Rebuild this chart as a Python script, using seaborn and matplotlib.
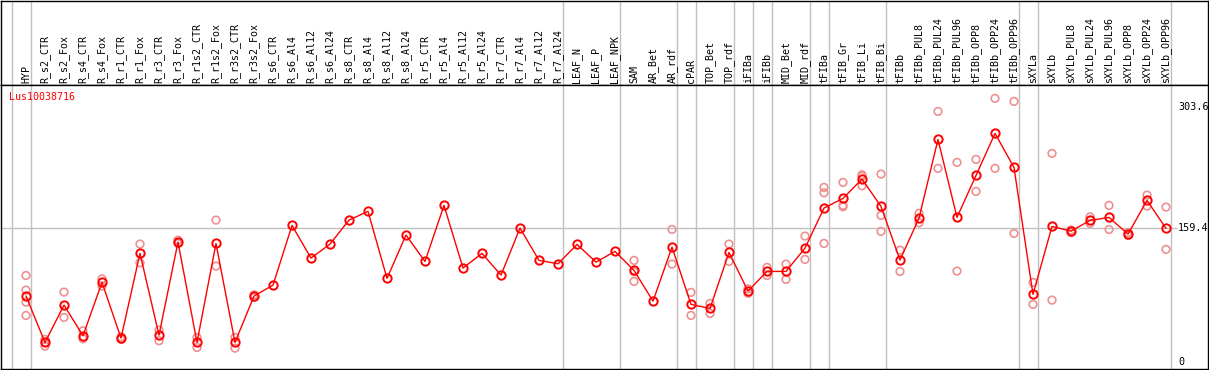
import matplotlib
matplotlib.use("Agg")

import matplotlib.pyplot as plt
import numpy as np
import pandas as pd
import seaborn as sns

gene = "Lus10038716"

samples = [
    "HYP", "R_s2_CTR", "R_s2_Fox", "R_s4_CTR", "R_s4_Fox", "R_r1_CTR", "R_r1_Fox",
    "R_r3_CTR", "R_r3_Fox", "R_r1s2_CTR", "R_r1s2_Fox", "R_r3s2_CTR", "R_r3s2_Fox",
    "R_s6_CTR", "R_s6_Al4", "R_s6_Al12", "R_s6_Al24", "R_s8_CTR", "R_s8_Al4",
    "R_s8_Al12", "R_s8_Al24", "R_r5_CTR", "R_r5_Al4", "R_r5_Al12", "R_r5_Al24",
    "R_r7_CTR", "R_r7_Al4", "R_r7_Al12", "R_r7_Al24", "LEAF_N", "LEAF_P", "LEAF_NPK",
    "SAM", "AR_Bet", "AR_rdf", "cPAR", "TOP_Bet", "TOP_rdf", "iFIBa", "iFIBb",
    "MID_Bet", "MID_rdf", "tFIBa", "tFIB_Gr", "tFIB_Li", "tFIB_Bi", "tFIBb",
    "tFIBb_PUL8", "tFIBb_PUL24", "tFIBb_PUL96", "tFIBb_OPP8", "tFIBb_OPP24",
    "tFIBb_OPP96", "sXYLa", "sXYLb", "sXYLb_PUL8", "sXYLb_PUL24", "sXYLb_PUL96",
    "sXYLb_OPP8", "sXYLb_OPP24", "sXYLb_OPP96",
]

means = [
    78.5, 23.4, 67.8, 31.3, 94.8, 28.5, 129.2, 32.1, 142.7, 23.4, 141.0, 23.4, 78.5,
    91.5, 162.5, 123.6, 140.3, 168.8, 179.2, 99.5, 151.0, 119.7, 186.3, 111.8, 129.2,
    103.4, 159.3, 120.9, 116.9, 139.9, 118.9, 131.6,
    109.0, 72.5, 136.7, 68.6, 63.8, 130.4, 84.4, 107.8, 107.8, 135.5, 183.1, 194.6,
    217.6, 185.1, 121.3, 171.2, 264.7, 172.0, 221.9, 271.9, 231.4, 80.5, 161.3,
    155.7, 168.4, 172.0, 152.2, 192.2, 159.0,
]

replicates = [
    [103, 85.6, 71.3, 55.5], [27, 23.4, 19], [83.2, 53.1], [37.2, 27.7], [99, 90.4],
    [30, 27], [140.3, 118], [38, 25.4], [145, 141], [29.3, 17.4], [168.8, 114.1],
    [29.3, 16.6], [80, 77],
    [], [], [], [], [], [], [], [], [], [], [], [], [], [], [], [], [], [], [],
    [120.9, 107.4, 95.9], [], [157.7, 116.5], [82.9, 55.5], [69.8, 57.9],
    [140.3, 119.7], [87, 81.8], [112.6, 103], [116.5, 98.3], [149.8, 122.1],
    [207.7, 201.3, 141.1], [213.6, 186.3, 184.7], [222.7, 221, 209.6],
    [223.5, 174.4, 155.4], [133.1, 107.8], [176.8, 165.6], [298, 230.3],
    [237.4, 108.2], [241, 202.9], [313.5, 230.3], [309.9, 153], [94.7, 68.6],
    [248.1, 73.7], [157, 154], [172.7, 164.9], [186.3, 157.7], [154, 150.5],
    [198.5, 185.5], [184.3, 134],
]

# sample index after which a group separator is drawn (-1 = before first)
group_breaks = [-1, 0, 28, 31, 34, 35, 37, 38, 39, 41, 42, 45, 52, 53, 60]
y_ticks = [0, 159.4, 303.6]

W, H = 1209, 370
X0, DX = 26.0, 19.0          # pixel of first column, column spacing
Y0, KY = 362.1, 0.8412       # pixel of value 0, pixels per unit


def px_rect(x1, y1, x2, y2):
    return [x1 / W, 1 - y2 / H, (x2 - x1) / W, (y2 - y1) / H]


def px_to_col(x):
    return (x - X0) / DX


def px_to_val(y):
    return (Y0 - y) / KY


mean_df = pd.DataFrame({"pos": np.arange(len(samples)), "value": means})
rep_df = pd.DataFrame(
    [(i, v) for i, reps in enumerate(replicates) for v in reps],
    columns=["pos", "value"],
)

sns.set_style("white")
plt.rcParams["font.family"] = ["DejaVu Sans Mono", "DejaVu Sans"]

fig = plt.figure(figsize=(W / 100, H / 100), dpi=100)
head = fig.add_axes(px_rect(1, 0.5, 1208, 85))
ax = fig.add_axes(px_rect(1, 85, 1208, 368.5))

xlim = (px_to_col(1), px_to_col(1208))
for a in (head, ax):
    a.set_xlim(*xlim)
    a.set_xticks([])
    a.set_yticks([])
    for s in a.spines.values():
        s.set_color("black")
        s.set_linewidth(1.0)
    for b in group_breaks:
        a.axvline(b + 0.25, color="#c0c0c0", lw=1.0, zorder=0)

head.set_ylim(85, 0.5)
for i, name in enumerate(samples):
    head.text(i, 83, name, rotation=90, ha="center", va="bottom",
              fontsize=7.2, color="black")

ax.set_ylim(px_to_val(368.5), px_to_val(85))
ax.hlines(159.4, xlim[0], px_to_col(1177), color="#c0c0c0", lw=1.0, zorder=0)

sns.scatterplot(data=rep_df, x="pos", y="value", ax=ax, marker="o", s=30,
                facecolor="none", edgecolor="#ee9090", linewidth=1.2, zorder=2)
sns.lineplot(data=mean_df, x="pos", y="value", ax=ax, color="red", lw=1.0,
             marker="o", markersize=6, markerfacecolor="none",
             markeredgecolor="red", markeredgewidth=1.4, zorder=3)
ax.set_xlabel("")
ax.set_ylabel("")

ax.text(px_to_col(9), px_to_val(97), gene, color="red", fontsize=7.2,
        ha="left", va="center")
for t in y_ticks:
    ax.text(px_to_col(1178), t, f"{t:g}", fontsize=7.3, ha="left",
            va="center", color="black")

fig.savefig("out.png", dpi=100)
